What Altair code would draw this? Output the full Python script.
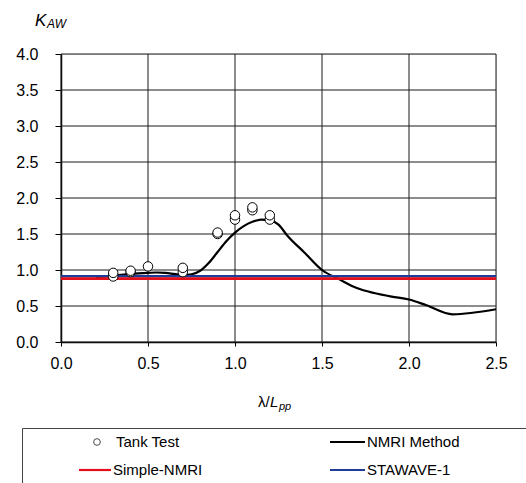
import altair as alt
import pandas as pd

# Tank test measurements (lambda/Lpp, K_AW)
test_x = [0.3, 0.3, 0.4, 0.4, 0.5, 0.7, 0.7, 0.9, 0.9, 1.0, 1.0, 1.1, 1.1, 1.2, 1.2]
test_y = [0.91, 0.96, 0.97, 0.99, 1.05, 0.97, 1.03, 1.50, 1.52, 1.70, 1.76, 1.83, 1.87, 1.70, 1.76]

# NMRI method curve
nmri_x = [0.2, 0.3, 0.4, 0.5, 0.55, 0.6, 0.65, 0.7, 0.75, 0.8, 0.85, 0.9, 0.95, 1.0,
          1.05, 1.1, 1.15, 1.2, 1.25, 1.3, 1.4, 1.5, 1.6, 1.7, 1.8, 1.9, 2.0, 2.1,
          2.25, 2.5]
nmri_y = [0.90, 0.92, 0.945, 0.96, 0.965, 0.96, 0.945, 0.93, 0.94, 0.99, 1.10, 1.25,
          1.40, 1.52, 1.61, 1.67, 1.70, 1.69, 1.63, 1.48, 1.24, 1.00, 0.87, 0.75,
          0.68, 0.63, 0.59, 0.51, 0.385, 0.455]

# Constant estimates
simple_nmri = 0.88
stawave = 0.913

x_ticks = [0.0, 0.5, 1.0, 1.5, 2.0, 2.5]
y_ticks = [0.0, 0.5, 1.0, 1.5, 2.0, 2.5, 3.0, 3.5, 4.0]

series = ["Tank Test", "NMRI Method", "Simple-NMRI", "STAWAVE-1"]
RED = "#e3101c"
BLUE = "#1f3d96"
GRID = "#1a1a1a"
FONT = "Liberation Sans"

W, H = 435, 288

tests = pd.DataFrame({"x": test_x, "y": test_y})
curve = pd.DataFrame({"x": nmri_x, "y": nmri_y})
consts = pd.DataFrame({"y": [stawave, simple_nmri], "name": [series[3], series[2]]})

xs = alt.Scale(domain=[0, 2.5], nice=False, zero=False)
ys = alt.Scale(domain=[0, 4], nice=False)

x_axis = alt.Axis(values=x_ticks, format=".1f", title=None, grid=False,
                  domainColor="black", domainWidth=1.5, tickColor="black",
                  tickSize=4, labelPadding=9, labelFontSize=16, labelFont=FONT,
                  labelColor="black", labelFlush=False, labelOverlap=False)
y_axis = alt.Axis(values=y_ticks, format=".1f", title=None, grid=False,
                  domainColor="black", domainWidth=1.5, tickColor="black",
                  tickSize=6, labelPadding=17, labelFontSize=16, labelFont=FONT,
                  labelColor="black", labelOverlap=False)

X = alt.X("x:Q", scale=xs, axis=x_axis)
Y = alt.Y("y:Q", scale=ys, axis=y_axis)

# Grid lines at every tick value
hgrid = alt.Chart(pd.DataFrame({"y": y_ticks})).mark_rule(
    color=GRID, strokeWidth=1).encode(y=Y)
vgrid = alt.Chart(pd.DataFrame({"x": x_ticks})).mark_rule(
    color=GRID, strokeWidth=1).encode(x=X)

base = alt.Chart(curve).mark_line(color="black", strokeWidth=2.2,
                                  interpolate="monotone").encode(x=X, y=Y)

const_lines = alt.Chart(consts).mark_rule(strokeWidth=2.6).encode(
    y=Y,
    color=alt.Color("name:N", scale=alt.Scale(domain=[series[3], series[2]],
                                              range=[BLUE, RED]), legend=None),
)

points = alt.Chart(tests).mark_point(shape="circle", size=90, filled=False,
                                     fill="white", fillOpacity=1, stroke="black",
                                     strokeWidth=1, opacity=1).encode(x=X, y=Y)

one = alt.Data(values=[{}])


def label(txt, x, y, size=15, italic=False, baseline="middle"):
    return alt.Chart(one).mark_text(
        text=txt, font=FONT, fontSize=size, align="left", baseline=baseline,
        fontStyle="italic" if italic else "normal", color="black",
    ).encode(x=alt.value(x), y=alt.value(y))


def swatch(color, x1, x2, y, width=2.2):
    return alt.Chart(one).mark_rule(color=color, strokeWidth=width).encode(
        x=alt.value(x1), x2=alt.value(x2), y=alt.value(y))


# Axis titles with subscripts
titles = [
    label("K", -26, -28, size=17, italic=True, baseline="alphabetic"),
    label("AW", -14, -26, size=12, italic=True, baseline="alphabetic"),
    label("λ/", 197, 353, size=15, baseline="alphabetic"),
    label("L", 209, 353, size=15, italic=True, baseline="alphabetic"),
    label("pp", 218, 356, size=11, italic=True, baseline="alphabetic"),
]

# Legend box and entries
legend_box = alt.Chart(one).mark_rect(fill="white", stroke="#444", strokeWidth=1).encode(
    x=alt.value(-38.5), x2=alt.value(520), y=alt.value(374.5), y2=alt.value(460))

legend_circle = alt.Chart(one).mark_point(shape="circle", size=45, filled=False,
                                          stroke="black", strokeWidth=1).encode(
    x=alt.value(36), y=alt.value(388))

legend = [
    legend_box,
    legend_circle,
    label(series[0], 55, 388),
    swatch("black", 269, 304, 388),
    label(series[1], 306, 388),
    swatch(RED, 18, 50, 416),
    label(series[2], 52, 416),
    swatch(BLUE, 269, 304, 416),
    label(series[3], 306, 416),
]

chart = alt.layer(hgrid, vgrid, base, const_lines, points, *titles, *legend).properties(
    width=W, height=H,
    autosize=alt.AutoSizeParams(type="none"),
    padding={"left": 61, "top": 54, "right": 30, "bottom": 141},
).configure_view(stroke="black", strokeWidth=1).configure(background="white")

chart.save("out.html", embed_options={"renderer": "svg", "actions": False})
